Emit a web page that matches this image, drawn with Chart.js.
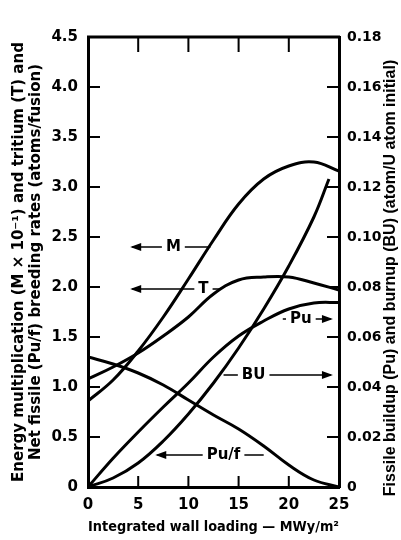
<!DOCTYPE html>
<html>
<head>
<meta charset="utf-8">
<script src="https://cdn.jsdelivr.net/npm/chart.js@4/dist/chart.umd.min.js"></script>
<style>
  html, body { margin: 0; padding: 0; background: #fff; }
</style>
</head>
<body>
<canvas id="chart" width="401" height="540"></canvas>
<script>
// Integrated wall loading (MWy/m2)
const loading = [0, 2.5, 5, 7.5, 10, 12.5, 15, 17.5, 20, 22.5, 25];
// left axis series
const mValues   = [0.86, 1.07, 1.36, 1.70, 2.08, 2.47, 2.83, 3.08, 3.21, 3.25, 3.16];
const tValues   = [1.08, 1.20, 1.34, 1.51, 1.70, 1.93, 2.07, 2.10, 2.10, 2.04, 1.97];
const pufValues = [1.30, 1.23, 1.14, 1.02, 0.87, 0.72, 0.58, 0.41, 0.22, 0.07, 0.00];
// right axis series (atom/U atom initial)
const puValues  = [0, 0.0115, 0.022, 0.032, 0.0416, 0.052, 0.0604, 0.0664, 0.0712, 0.0736, 0.0738];
const buLoading = [0, 2.5, 5, 7.5, 10, 12.5, 15, 17.5, 20, 22.5, 24];
const buValues  = [0, 0.0036, 0.0096, 0.0184, 0.0292, 0.0416, 0.0556, 0.0712, 0.0884, 0.108, 0.1232];

const leftTicks  = [0, 0.5, 1, 1.5, 2, 2.5, 3, 3.5, 4, 4.5];
const rightTicks = [0, 0.02, 0.04, 0.06, 0.08, 0.10, 0.12, 0.14, 0.16, 0.18];
const xTicks     = [0, 5, 10, 15, 20, 25];

// curve labels: text, x, y (left axis units), dash start, dash end, arrow side
const annText  = ['M', 'T', 'Pu', 'BU', 'Pu/f'];
const annX     = [8.5, 11.5, 21.2, 16.5, 13.5];
const annY     = [2.40, 1.98, 1.68, 1.12, 0.32];
const annFrom  = [4.4, 4.4, 19.4, 13.5, 6.9];
const annTo    = [12.2, 13.2, 24.2, 24.2, 17.5];
const annArrow = ['left', 'left', 'right', 'right', 'left'];

const FONT = 'DejaVu Sans';
const rightTitle = 'Fissile buildup (Pu) and burnup (BU) (atom/U atom initial)';

function pts(xs, ys) {
    return xs.map((x, i) => ({ x: x, y: ys[i] }));
}

function curve(label, data, axis) {
    return {
        label: label,
        data: data,
        yAxisID: axis,
        borderColor: '#000',
        borderWidth: 3,
        pointRadius: 0,
        fill: false,
        tension: 0.4
    };
}

const frame = {
    id: 'frame',
    afterDraw(chart) {
        const ctx = chart.ctx;
        const a = chart.chartArea;
        const x = chart.scales.x, y = chart.scales.y, y1 = chart.scales.y1;
        ctx.save();
        ctx.strokeStyle = '#000';
        ctx.fillStyle = '#000';
        // top border
        ctx.lineWidth = 3;
        ctx.beginPath();
        ctx.moveTo(a.left - 1, a.top);
        ctx.lineTo(a.right + 1, a.top);
        ctx.stroke();
        // inward ticks
        ctx.lineWidth = 2;
        ctx.beginPath();
        xTicks.slice(1, -1).forEach(v => {
            const px = x.getPixelForValue(v);
            ctx.moveTo(px, a.bottom); ctx.lineTo(px, a.bottom - 11);
            ctx.moveTo(px, a.top); ctx.lineTo(px, a.top + 15);
        });
        leftTicks.slice(1, -1).forEach(v => {
            const py = y.getPixelForValue(v);
            ctx.moveTo(a.left, py); ctx.lineTo(a.left + 12, py);
        });
        rightTicks.slice(1, -1).forEach(v => {
            const py = y1.getPixelForValue(v);
            ctx.moveTo(a.right, py); ctx.lineTo(a.right - 12, py);
        });
        ctx.stroke();
        // curve labels with arrows
        ctx.font = 'bold 15px "' + FONT + '"';
        ctx.textAlign = 'center';
        ctx.textBaseline = 'middle';
        ctx.lineWidth = 1.6;
        annText.forEach((t, i) => {
            const cx = x.getPixelForValue(annX[i]);
            const cy = y.getPixelForValue(annY[i]);
            const w = ctx.measureText(t).width / 2 + 4;
            const x0 = x.getPixelForValue(annFrom[i]);
            const x1 = x.getPixelForValue(annTo[i]);
            ctx.fillText(t, cx, cy);
            ctx.beginPath();
            ctx.moveTo(x0, cy); ctx.lineTo(cx - w, cy);
            ctx.moveTo(cx + w, cy); ctx.lineTo(x1, cy);
            ctx.stroke();
            ctx.beginPath();
            if (annArrow[i] === 'left') {
                ctx.moveTo(x0 - 2, cy); ctx.lineTo(x0 + 9, cy - 4); ctx.lineTo(x0 + 9, cy + 4);
            } else {
                ctx.moveTo(x1 + 2, cy); ctx.lineTo(x1 - 9, cy - 4); ctx.lineTo(x1 - 9, cy + 4);
            }
            ctx.closePath();
            ctx.fill();
        });
        // right axis title, read bottom to top
        ctx.font = 'bold 16px "Liberation Sans"';
        ctx.translate(391, 278);
        ctx.rotate(-Math.PI / 2);
        ctx.fillText(rightTitle, 0, 0);
        ctx.restore();
    }
};

new Chart(document.getElementById('chart'), {
    type: 'line',
    data: {
        datasets: [
            curve('M', pts(loading, mValues), 'y'),
            curve('T', pts(loading, tValues), 'y'),
            curve('Pu/f', pts(loading, pufValues), 'y'),
            curve('Pu', pts(loading, puValues), 'y1'),
            curve('BU', pts(buLoading, buValues), 'y1')
        ]
    },
    options: {
        responsive: false,
        animation: false,
        devicePixelRatio: 1,
        layout: { padding: { top: 37, left: 0, right: 0, bottom: 0 } },
        plugins: { legend: { display: false }, tooltip: { enabled: false } },
        scales: {
            x: {
                type: 'linear', min: 0, max: 25,
                afterBuildTicks: s => { s.ticks = xTicks.map(v => ({ value: v })); },
                afterFit: s => { s.height = 53; },
                grid: { display: false },
                border: { display: true, width: 3, color: '#000' },
                ticks: { color: '#000', font: { family: FONT, size: 15, weight: 'bold' }, padding: 1 },
                title: {
                    display: true, text: 'Integrated wall loading — MWy/m²', color: '#000',
                    font: { family: FONT, size: 14, weight: 'bold' }, padding: { top: 3 }
                }
            },
            y: {
                position: 'left', min: 0, max: 4.5,
                afterBuildTicks: s => { s.ticks = leftTicks.map(v => ({ value: v })); },
                afterFit: s => { s.width = 88; },
                grid: { display: false },
                border: { display: true, width: 3, color: '#000' },
                ticks: {
                    color: '#000', font: { family: FONT, size: 15, weight: 'bold' }, padding: 2,
                    callback: v => v === 0 ? '0' : v.toFixed(1)
                },
                title: {
                    display: true, color: '#000',
                    text: ['Energy multiplication (M × 10⁻¹) and tritium (T) and',
                           'Net fissile (Pu/f) breeding rates (atoms/fusion)'],
                    font: { family: FONT, size: 15, weight: 'bold', lineHeight: 1.1 }, padding: { top: 11 }
                }
            },
            y1: {
                position: 'right', min: 0, max: 0.18,
                afterBuildTicks: s => { s.ticks = rightTicks.map(v => ({ value: v })); },
                afterFit: s => { s.width = 62; },
                grid: { display: false },
                border: { display: true, width: 3, color: '#000' },
                ticks: {
                    color: '#000', font: { family: FONT, size: 14, weight: 'bold' }, padding: 0,
                    callback: v => v === 0 ? '0' : v.toFixed(2)
                },
                title: { display: false }
            }
        }
    },
    plugins: [frame]
});
</script>
</body>
</html>
